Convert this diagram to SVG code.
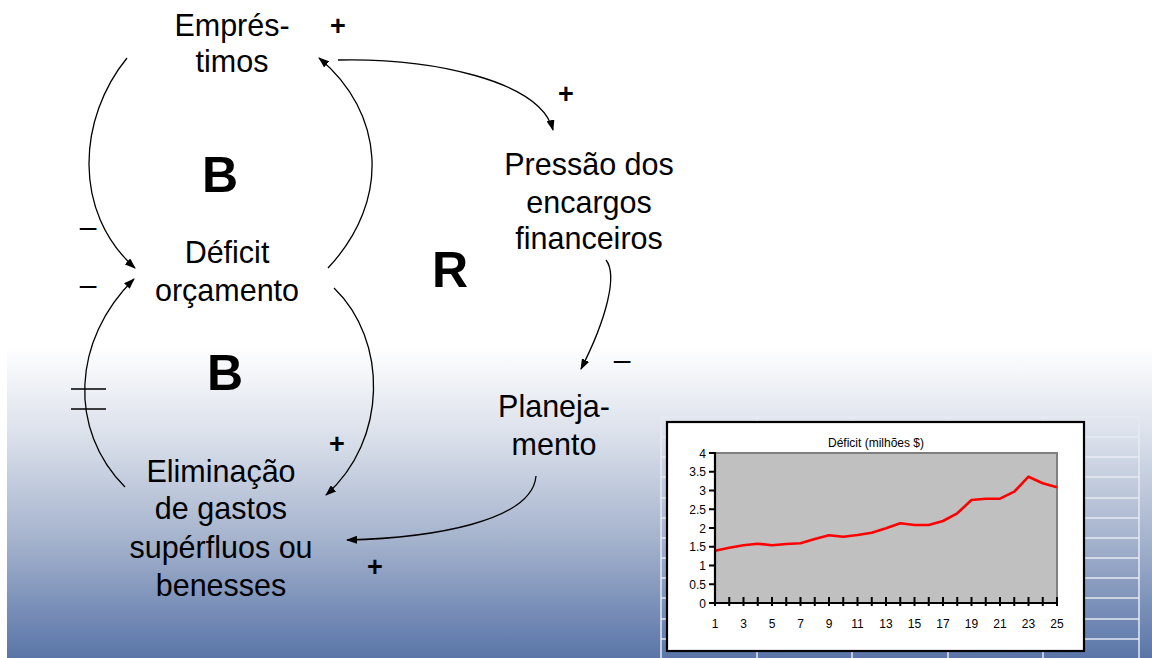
<svg xmlns="http://www.w3.org/2000/svg" width="1152" height="658" viewBox="0 0 1152 658">
<defs>
<linearGradient id="bg" x1="0" y1="0" x2="0" y2="1">
<stop offset="0" stop-color="#ffffff"/>
<stop offset="0.3" stop-color="#d9dfea"/>
<stop offset="0.62" stop-color="#a5b3cd"/>
<stop offset="1" stop-color="#5a75a8"/>
</linearGradient>
<marker id="ah" markerUnits="userSpaceOnUse" markerWidth="11" markerHeight="8" refX="10" refY="4" orient="auto">
<path d="M0,0 L11,4 L0,8 z" fill="#000"/>
</marker>
<style>
.lbl{font-family:"Liberation Sans",Arial,sans-serif;font-size:30.5px;fill:#000;text-anchor:middle}
.loop{font-family:"Liberation Sans",Arial,sans-serif;font-size:50px;font-weight:bold;fill:#000;text-anchor:middle}
.sgn{font-family:"Liberation Sans",Arial,sans-serif;font-size:27px;font-weight:bold;fill:#000;text-anchor:middle}
.dash{font-family:"Liberation Sans",Arial,sans-serif;font-size:30px;fill:#000;text-anchor:middle}
.con{fill:none;stroke:#000;stroke-width:1.3;marker-end:url(#ah)}
.grid{stroke:#e6eaf2;stroke-opacity:0.75;stroke-width:2;fill:none}
.ax{font-family:"Liberation Sans",Arial,sans-serif;font-size:12px;fill:#000}
</style>
</defs>
<rect width="1152" height="658" fill="#fff"/>
<rect x="7" y="345" width="1145" height="313" fill="url(#bg)"/>

<g id="grid">
<path class="grid" d="M661,417 V658 M757,417 V658 M852,417 V658 M948,417 V658 M1043,417 V658 M1139,417 V658"/>
<path class="grid" d="M661,417 H1139 M661,437 H1139 M661,457 H1139 M661,477 H1139 M661,498 H1139 M661,518 H1139 M661,538 H1139 M661,558 H1139 M661,578 H1139 M661,598 H1139 M661,619 H1139 M661,639 H1139"/>
</g>

<g id="chart">
<rect x="667" y="422" width="417" height="229" fill="#fff" stroke="#000" stroke-width="2.2"/>
<text class="ax" x="876" y="447" text-anchor="middle" font-size="11">Déficit (milhões $)</text>
<rect x="715" y="453" width="342" height="150" fill="#c0c0c0" stroke="#808080" stroke-width="2"/>
<polyline fill="none" stroke="#ff0000" stroke-width="2.6" stroke-linejoin="round" points="715,550.7 729.25,547.7 743.5,545.3 757.75,543.7 772,545.3 786.25,544 800.5,543.3 814.75,539 829,535.3 843.25,536.7 857.5,535 871.75,532.7 886,528.3 900.25,523.3 914.5,525 928.75,525 943,521 957.25,513.3 971.5,500 985.75,498.7 1000,498.7 1014.25,491.7 1028.5,476.7 1042.75,483.3 1057,487.3"/>
<path d="M715,452 V604 M714,603 H1058" stroke="#000" stroke-width="2.2" fill="none"/>
<path d="M709,453 H715 M709,471.75 H715 M709,490.5 H715 M709,509.25 H715 M709,528 H715 M709,546.75 H715 M709,565.5 H715 M709,584.25 H715 M709,603 H715" stroke="#000" stroke-width="2"/>
<path d="M715,597 V606 M729.25,597 V606 M743.5,597 V606 M757.75,597 V606 M772,597 V606 M786.25,597 V606 M800.5,597 V606 M814.75,597 V606 M829,597 V606 M843.25,597 V606 M857.5,597 V606 M871.75,597 V606 M886,597 V606 M900.25,597 V606 M914.5,597 V606 M928.75,597 V606 M943,597 V606 M957.25,597 V606 M971.5,597 V606 M985.75,597 V606 M1000,597 V606 M1014.25,597 V606 M1028.5,597 V606 M1042.75,597 V606 M1057,597 V606" stroke="#000" stroke-width="2"/>
<g class="ax" text-anchor="end">
<text x="706" y="457.5">4</text>
<text x="706" y="476.25">3.5</text>
<text x="706" y="495">3</text>
<text x="706" y="513.75">2.5</text>
<text x="706" y="532.5">2</text>
<text x="706" y="551.25">1.5</text>
<text x="706" y="570">1</text>
<text x="706" y="588.75">0.5</text>
<text x="706" y="607.5">0</text>
</g>
<g class="ax" text-anchor="middle">
<text x="715" y="628">1</text>
<text x="743.5" y="628">3</text>
<text x="772" y="628">5</text>
<text x="800.5" y="628">7</text>
<text x="829" y="628">9</text>
<text x="857.5" y="628">11</text>
<text x="886" y="628">13</text>
<text x="914.5" y="628">15</text>
<text x="943" y="628">17</text>
<text x="971.5" y="628">19</text>
<text x="1000" y="628">21</text>
<text x="1028.5" y="628">23</text>
<text x="1057" y="628">25</text>
</g>
</g>

<g id="connectors">
<path class="con" d="M127,58 C78,118 72,212 135,268"/>
<path class="con" d="M328,268 C392,200 384,112 319,58"/>
<path class="con" d="M334,288 C388,340 388,440 326,495"/>
<path class="con" d="M125,487 C68,430 72,340 134,279"/>
<path class="con" d="M338,60 C430,58 540,80 553,130"/>
<path class="con" d="M606,260 C618,275 606,320 581,369"/>
<path class="con" d="M536,476 C532,522 430,538 347,540"/>
<path d="M71,389 H106 M71,409 H106" stroke="#000" stroke-width="1.5"/>
</g>

<g id="node-emprestimos">
<text class="lbl" x="232" y="36">Emprés-</text>
<text class="lbl" x="232" y="72">timos</text>
</g>
<g id="node-deficit">
<text class="lbl" x="227" y="263">Déficit</text>
<text class="lbl" x="227" y="301">orçamento</text>
</g>
<g id="node-pressao">
<text class="lbl" x="589" y="175">Pressão dos</text>
<text class="lbl" x="589" y="213">encargos</text>
<text class="lbl" x="589" y="249">financeiros</text>
</g>
<g id="node-planejamento">
<text class="lbl" x="554" y="417">Planeja-</text>
<text class="lbl" x="554" y="455">mento</text>
</g>
<g id="node-eliminacao">
<text class="lbl" x="221" y="482">Eliminação</text>
<text class="lbl" x="221" y="519">de gastos</text>
<text class="lbl" x="221" y="558">supérfluos ou</text>
<text class="lbl" x="221" y="596">benesses</text>
</g>

<g id="loops">
<text class="loop" x="220" y="192">B</text>
<text class="loop" x="225" y="390">B</text>
<text class="loop" x="450" y="287">R</text>
</g>

<g id="signs">
<text class="sgn" x="338" y="35">+</text>
<text class="sgn" x="566" y="103">+</text>
<text class="sgn" x="337" y="453">+</text>
<text class="sgn" x="375" y="576">+</text>
<text class="dash" x="88" y="237">–</text>
<text class="dash" x="88" y="295">–</text>
<text class="dash" x="622" y="370">–</text>
</g>
</svg>
